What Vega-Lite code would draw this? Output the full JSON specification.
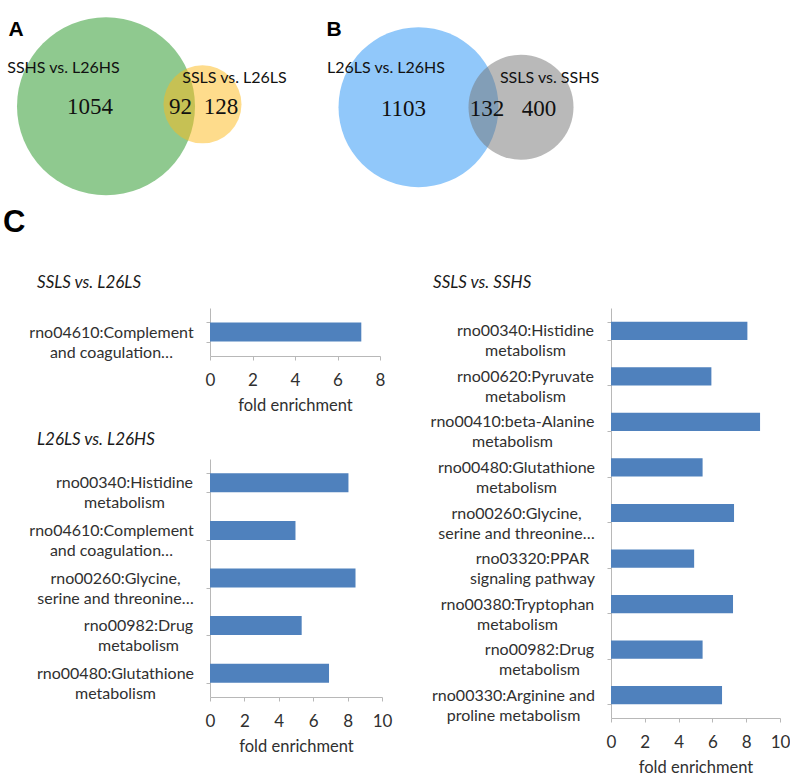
{
  "$schema": "https://vega.github.io/schema/vega-lite/v6.json",
  "background": "white",
  "padding": 0,
  "config": {
    "view": {"stroke": null},
    "axis": {"grid": false, "domainColor": "#b8b8b8", "tickColor": "#b8b8b8", "tickSize": 4, "labelColor": "#303030", "titleColor": "#303030", "labelFont": "Lato", "titleFont": "Lato", "labelFontSize": 16, "titleFontSize": 16.5, "titleFontWeight": "normal", "labelOverlap": false},
    "axisY": {"tickBand": "extent", "labelAlign": "center", "labelLineHeight": 20, "labelLimit": 300},
    "axisX": {"labelPadding": 12, "labelFlush": false, "labelFontSize": 17, "titlePadding": 9},
    "title": {"font": "Lato", "fontStyle": "italic", "fontSize": 17, "fontWeight": "normal", "color": "#1a1a1a", "baseline": "alphabetic", "anchor": "start", "frame": "group"}
  },
  "datasets": {
    "circles": [
      {"diagram": "A", "set": "SSHS vs. L26HS", "total": 1146, "x": 1.06, "y": 1.06},
      {"diagram": "A", "set": "SSLS vs. L26LS", "total": 220, "x": 2.025, "y": 1.08},
      {"diagram": "B", "set": "L26LS vs. L26HS", "total": 1235, "x": 1.185, "y": 1.05},
      {"diagram": "B", "set": "SSLS vs. SSHS", "total": 532, "x": 2.21, "y": 1.05}
    ],
    "names": [
      {"diagram": "A", "label": "SSHS vs. L26HS", "x": 0.635, "y": 1.47},
      {"diagram": "A", "label": "SSLS vs. L26LS", "x": 2.345, "y": 1.36},
      {"diagram": "B", "label": "L26LS vs. L26HS", "x": 0.86, "y": 1.475},
      {"diagram": "B", "label": "SSLS vs. SSHS", "x": 2.495, "y": 1.365}
    ],
    "counts": [
      {"diagram": "A", "n": 1054, "x": 0.9, "y": 1.05},
      {"diagram": "A", "n": 92, "x": 1.805, "y": 1.05},
      {"diagram": "A", "n": 128, "x": 2.21, "y": 1.05},
      {"diagram": "B", "n": 1103, "x": 1.035, "y": 1.03},
      {"diagram": "B", "n": 132, "x": 1.87, "y": 1.03},
      {"diagram": "B", "n": 400, "x": 2.39, "y": 1.03}
    ],
    "letters": [
      {"diagram": "A", "letter": "A", "x": 0.16, "y": 1.875},
      {"diagram": "B", "letter": "B", "x": 0.34, "y": 1.875}
    ],
    "enrich": [
      {"panel": "SSLS vs. L26LS", "term": "rno04610:Complement|and coagulation…", "fold": 7.12},
      {"panel": "L26LS vs. L26HS", "term": "rno00340:Histidine|metabolism", "fold": 8.05},
      {"panel": "L26LS vs. L26HS", "term": "rno04610:Complement|and coagulation…", "fold": 4.97},
      {"panel": "L26LS vs. L26HS", "term": "rno00260:Glycine,|serine and threonine…", "fold": 8.46},
      {"panel": "L26LS vs. L26HS", "term": "rno00982:Drug|metabolism", "fold": 5.33},
      {"panel": "L26LS vs. L26HS", "term": "rno00480:Glutathione|metabolism", "fold": 6.92},
      {"panel": "SSLS vs. SSHS", "term": "rno00340:Histidine|metabolism", "fold": 8.07},
      {"panel": "SSLS vs. SSHS", "term": "rno00620:Pyruvate|metabolism", "fold": 5.94},
      {"panel": "SSLS vs. SSHS", "term": "rno00410:beta-Alanine|metabolism", "fold": 8.82},
      {"panel": "SSLS vs. SSHS", "term": "rno00480:Glutathione|metabolism", "fold": 5.42},
      {"panel": "SSLS vs. SSHS", "term": "rno00260:Glycine,|serine and threonine…", "fold": 7.28},
      {"panel": "SSLS vs. SSHS", "term": "rno03320:PPAR|signaling pathway", "fold": 4.92},
      {"panel": "SSLS vs. SSHS", "term": "rno00380:Tryptophan|metabolism", "fold": 7.22},
      {"panel": "SSLS vs. SSHS", "term": "rno00982:Drug|metabolism", "fold": 5.42},
      {"panel": "SSLS vs. SSHS", "term": "rno00330:Arginine and|proline metabolism", "fold": 6.57}
    ]
  },
  "bounds": "flush",
  "spacing": 308,
  "resolve": {"scale": {"size": "independent", "color": "independent", "opacity": "independent"}},
  "vconcat": [
    {
      "bounds": "flush",
      "spacing": 0,
      "resolve": {"scale": {"size": "independent", "color": "independent", "opacity": "independent"}},
      "hconcat": [
        {
          "width": 300,
          "height": 205,
          "layer": [
            {
              "data": {"name": "circles"},
              "transform": [{"filter": "datum.diagram === 'A'"}],
              "mark": {"type": "point", "shape": "circle", "filled": true, "strokeWidth": 0},
              "encoding": {
                "x": {"field": "x", "type": "quantitative", "scale": {"domain": [0, 3]}, "axis": null},
                "y": {"field": "y", "type": "quantitative", "scale": {"domain": [0, 2.05]}, "axis": null},
                "size": {"field": "total", "type": "quantitative", "scale": {"domain": [0, 1146], "range": [0, 31684]}, "legend": null},
                "color": {"field": "set", "type": "nominal", "scale": {"domain": ["SSHS vs. L26HS", "SSLS vs. L26LS"], "range": ["#8fc98f", "#fdb919"]}, "legend": null},
                "opacity": {"field": "set", "type": "nominal", "scale": {"domain": ["SSHS vs. L26HS", "SSLS vs. L26LS"], "range": [1, 0.5]}, "legend": null}
              }
            },
            {
              "data": {"name": "names"},
              "transform": [{"filter": "datum.diagram === 'A'"}],
              "mark": {"type": "text", "font": "Lato", "fontSize": 16, "color": "#111111"},
              "encoding": {
                "x": {"field": "x", "type": "quantitative"},
                "y": {"field": "y", "type": "quantitative"},
                "text": {"field": "label"}
              }
            },
            {
              "data": {"name": "counts"},
              "transform": [{"filter": "datum.diagram === 'A'"}],
              "mark": {"type": "text", "font": "Liberation Serif", "fontSize": 23, "color": "#111111"},
              "encoding": {
                "x": {"field": "x", "type": "quantitative"},
                "y": {"field": "y", "type": "quantitative"},
                "text": {"field": "n"}
              }
            },
            {
              "data": {"name": "letters"},
              "transform": [{"filter": "datum.diagram === 'A'"}],
              "mark": {"type": "text", "font": "Liberation Sans", "fontWeight": "bold", "fontSize": 21, "color": "#000000"},
              "encoding": {
                "x": {"field": "x", "type": "quantitative"},
                "y": {"field": "y", "type": "quantitative"},
                "text": {"field": "letter"}
              }
            }
          ]
        },
        {
          "width": 300,
          "height": 205,
          "layer": [
            {
              "data": {"name": "circles"},
              "transform": [{"filter": "datum.diagram === 'B'"}],
              "mark": {"type": "point", "shape": "circle", "filled": true, "strokeWidth": 0},
              "encoding": {
                "x": {"field": "x", "type": "quantitative", "scale": {"domain": [0, 3]}, "axis": null},
                "y": {"field": "y", "type": "quantitative", "scale": {"domain": [0, 2.05]}, "axis": null},
                "size": {"field": "total", "type": "quantitative", "scale": {"domain": [0, 1235], "range": [0, 25600]}, "legend": null},
                "color": {"field": "set", "type": "nominal", "scale": {"domain": ["L26LS vs. L26HS", "SSLS vs. SSHS"], "range": ["#91c8fa", "#737373"]}, "legend": null},
                "opacity": {"field": "set", "type": "nominal", "scale": {"domain": ["L26LS vs. L26HS", "SSLS vs. SSHS"], "range": [1, 0.5]}, "legend": null}
              }
            },
            {
              "data": {"name": "names"},
              "transform": [{"filter": "datum.diagram === 'B'"}],
              "mark": {"type": "text", "font": "Lato", "fontSize": 16, "color": "#111111"},
              "encoding": {
                "x": {"field": "x", "type": "quantitative"},
                "y": {"field": "y", "type": "quantitative"},
                "text": {"field": "label"}
              }
            },
            {
              "data": {"name": "counts"},
              "transform": [{"filter": "datum.diagram === 'B'"}],
              "mark": {"type": "text", "font": "Liberation Serif", "fontSize": 23, "color": "#111111"},
              "encoding": {
                "x": {"field": "x", "type": "quantitative"},
                "y": {"field": "y", "type": "quantitative"},
                "text": {"field": "n"}
              }
            },
            {
              "data": {"name": "letters"},
              "transform": [{"filter": "datum.diagram === 'B'"}],
              "mark": {"type": "text", "font": "Liberation Sans", "fontWeight": "bold", "fontSize": 21, "color": "#000000"},
              "encoding": {
                "x": {"field": "x", "type": "quantitative"},
                "y": {"field": "y", "type": "quantitative"},
                "text": {"field": "letter"}
              }
            }
          ]
        }
      ]
    },
    {
      "bounds": "flush",
      "spacing": 611,
      "hconcat": [
        {
          "bounds": "flush",
          "spacing": 0,
          "hconcat": [
            {
              "width": 210,
              "height": 1,
              "title": {"text": "C", "font": "Liberation Sans", "fontStyle": "normal", "fontWeight": "bold", "fontSize": 31, "color": "#000000", "offset": 69, "dx": 3},
              "data": {"values": []},
              "mark": "point",
              "encoding": {}
            },
            {
              "bounds": "flush",
              "spacing": 103,
              "vconcat": [
                {
                  "width": 170,
                  "height": 48,
                  "title": {"text": "SSLS vs. L26LS", "dx": -173, "offset": 8},
                  "data": {"name": "enrich"},
                  "transform": [{"filter": "datum.panel === 'SSLS vs. L26LS'"}],
                  "mark": {"type": "bar", "color": "#4f81bd"},
                  "encoding": {
                    "y": {"field": "term", "type": "nominal", "sort": null, "title": null, "scale": {"paddingInner": 0.6, "paddingOuter": 0.3}, "axis": {"labelExpr": "split(datum.label, '|')", "labelPadding": 95}},
                    "x": {"field": "fold", "type": "quantitative", "title": "fold enrichment", "scale": {"domain": [0, 8], "nice": false}, "axis": {"values": [0, 2, 4, 6, 8]}}
                  }
                },
                {
                  "width": 172,
                  "height": 238,
                  "title": {"text": "L26LS vs. L26HS", "dx": -173, "offset": 2},
                  "data": {"name": "enrich"},
                  "transform": [{"filter": "datum.panel === 'L26LS vs. L26HS'"}],
                  "mark": {"type": "bar", "color": "#4f81bd"},
                  "encoding": {
                    "y": {"field": "term", "type": "nominal", "sort": null, "title": null, "scale": {"paddingInner": 0.6, "paddingOuter": 0.3}, "axis": {
                      "labelExpr": "split(datum.label, '|')",
                      "labelPadding": {"condition": [
                        {"test": "datum.value === 'rno00340:Histidine|metabolism'", "value": 82},
                        {"test": "datum.value === 'rno04610:Complement|and coagulation…'", "value": 95},
                        {"test": "datum.value === 'rno00260:Glycine,|serine and threonine…'", "value": 91},
                        {"test": "datum.value === 'rno00982:Drug|metabolism'", "value": 68}
                      ], "value": 91}
                    }},
                    "x": {"field": "fold", "type": "quantitative", "title": "fold enrichment", "scale": {"domain": [0, 10], "nice": false}, "axis": {"values": [0, 2, 4, 6, 8, 10]}}
                  }
                }
              ]
            }
          ]
        },
        {
          "width": 169,
          "height": 410,
          "title": {"text": "SSLS vs. SSHS", "dx": -178, "offset": 8},
          "data": {"name": "enrich"},
          "transform": [{"filter": "datum.panel === 'SSLS vs. SSHS'"}],
          "mark": {"type": "bar", "color": "#4f81bd"},
          "encoding": {
            "y": {"field": "term", "type": "nominal", "sort": null, "title": null, "scale": {"paddingInner": 0.6, "paddingOuter": 0.3}, "axis": {
              "labelExpr": "split(datum.label, '|')",
              "labelPadding": {"condition": [
                {"test": "datum.value === 'rno00340:Histidine|metabolism'", "value": 82},
                {"test": "datum.value === 'rno00620:Pyruvate|metabolism'", "value": 82},
                {"test": "datum.value === 'rno00410:beta-Alanine|metabolism'", "value": 95},
                {"test": "datum.value === 'rno00480:Glutathione|metabolism'", "value": 91},
                {"test": "datum.value === 'rno00260:Glycine,|serine and threonine…'", "value": 91},
                {"test": "datum.value === 'rno03320:PPAR|signaling pathway'", "value": 75},
                {"test": "datum.value === 'rno00380:Tryptophan|metabolism'", "value": 90},
                {"test": "datum.value === 'rno00982:Drug|metabolism'", "value": 68}
              ], "value": 94}
            }},
            "x": {"field": "fold", "type": "quantitative", "title": "fold enrichment", "scale": {"domain": [0, 10], "nice": false}, "axis": {"values": [0, 2, 4, 6, 8, 10]}}
          }
        }
      ]
    }
  ]
}
